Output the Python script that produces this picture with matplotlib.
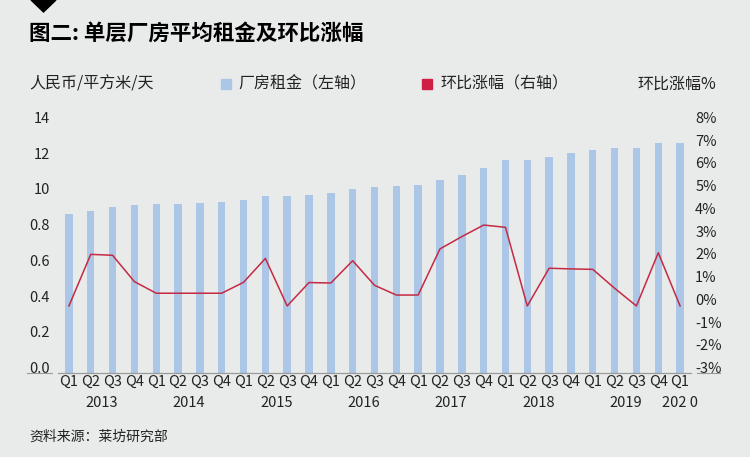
import numpy as np
import matplotlib.pyplot as plt
from matplotlib.patches import Polygon, Rectangle
from matplotlib.lines import Line2D

plt.rcParams['font.family'] = ['Noto Sans CJK SC', 'DejaVu Sans']

quarters = ['Q1', 'Q2', 'Q3', 'Q4'] * 7 + ['Q1']
years = ['2013', '2014', '2015', '2016', '2017', '2018', '2019', '202 0']
rent = [0.89, 0.909, 0.928, 0.939, 0.946, 0.948, 0.954, 0.959,
        0.969, 0.989, 0.989, 0.999, 1.010, 1.030, 1.042, 1.045,
        1.051, 1.079, 1.111, 1.150, 1.193, 1.193, 1.211, 1.234,
        1.251, 1.262, 1.262, 1.290, 1.290]
change = [-0.05, 2.22, 2.18, 1.02, 0.51, 0.51, 0.51, 0.51,
          0.99, 2.04, -0.05, 0.98, 0.96, 1.94, 0.86, 0.43,
          0.43, 2.46, 3.00, 3.51, 3.41, -0.05, 1.61, 1.58,
          1.56, 0.73, -0.05, 2.29, -0.05]
left_ticks = [0.0, 0.2, 0.4, 0.6, 0.8, 1.0, 1.2, 1.4]
left_labels = ['0.0', '0.2', '0.4', '0.6', '0.8', '10', '12', '14']
right_ticks = list(range(-3, 9))

bg = '#e9ebea'
bar_color = '#abc6e6'
line_color = '#c42a44'
W, H = 750, 457


def fx(x):
    return x / W


def fy(y):
    return 1 - y / H


fig = plt.figure(figsize=(7.5, 4.57), dpi=100, facecolor=bg)
ax = fig.add_axes([fx(58), fy(373), fx(691) - fx(58), fy(123) - fy(373)])
ax.set_facecolor(bg)
ax2 = ax.twinx()

x = np.arange(len(rent))
ax.bar(x, rent, width=0.34, color=bar_color, zorder=1)
ax2.plot(x, change, color=line_color, lw=1.1, zorder=3)

ax.set_xlim(-0.5, len(rent) - 0.5)
ax.set_ylim(0, 1.4)
ax2.set_ylim(-3, 8)

ax.set_yticks(left_ticks)
ax.set_yticklabels(left_labels, va='baseline')
ax.tick_params(axis='y', length=0, pad=6, labelsize=10.5, colors='#222222')
ax2.set_yticks(right_ticks)
ax2.set_yticklabels([f'{v}%' for v in right_ticks], va='baseline')
ax2.tick_params(axis='y', length=0, pad=3, labelsize=10.5, colors='#222222')

ax.set_xticks(x)
ax.set_xticklabels(quarters)
ax.tick_params(axis='x', length=0, pad=1, labelsize=10.5, colors='#222222')

for a in (ax, ax2):
    for s in ['top', 'left', 'right']:
        a.spines[s].set_visible(False)
    a.spines['bottom'].set_color('#9a9a9a')
    a.spines['bottom'].set_linewidth(0.8)

# year labels under the quarter groups
for i, yr in enumerate(years):
    cx = 4 * i + 1.5 if i < 7 else 28
    ax.text(cx, -0.17, yr, ha='center', va='center', fontsize=10.5, color='#222222')

# short rules under the 0.0 and -3% labels
for x0, x1 in [(27, 52), (697, 720)]:
    fig.add_artist(Line2D([fx(x0), fx(x1)], [fy(373), fy(373)], color='#9a9a9a', lw=0.8))

# header
fig.add_artist(Polygon([[fx(31), fy(0)], [fx(56), fy(0)], [fx(43.5), fy(12)]],
                       closed=True, color='black'))
fig.text(fx(29), fy(33), '图二: 单层厂房平均租金及环比涨幅', fontsize=15.5,
         fontweight='heavy', va='center', ha='left', color='black')

fig.text(fx(29), fy(84), '人民币/平方米/天', fontsize=11.5, va='center', color='#222222')
fig.add_artist(Rectangle((fx(221), fy(89)), fx(10), 10 / H, color=bar_color))
fig.text(fx(238), fy(84), '厂房租金（左轴）', fontsize=11.5, va='center', color='#222222')
fig.add_artist(Rectangle((fx(422), fy(89)), fx(10), 10 / H, color='#d01f44'))
fig.text(fx(440), fy(84), '环比涨幅（右轴）', fontsize=11.5, va='center', color='#222222')
fig.text(fx(716), fy(84), '环比涨幅%', fontsize=11.5, va='center', ha='right', color='#222222')

fig.text(fx(29), fy(437), '资料来源：莱坊研究部', fontsize=10, va='center', color='#222222')

fig.savefig('out.png', dpi=100, facecolor=bg)
